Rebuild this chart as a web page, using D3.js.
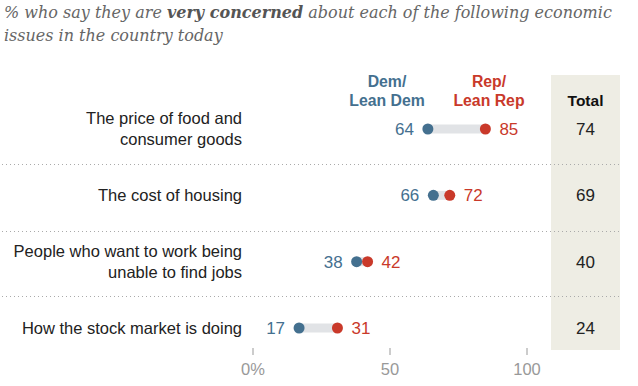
<!DOCTYPE html>
<html><head><meta charset="utf-8">
<script src="https://cdn.jsdelivr.net/npm/d3@7"></script>
<style>
body{margin:0;background:#fff;}
svg{display:block;}
</style></head><body>
<svg id="c" width="638" height="386"></svg>
<script>
const categories = [
  ["The price of food and", "consumer goods"],
  ["The cost of housing"],
  ["People who want to work being", "unable to find jobs"],
  ["How the stock market is doing"]
];
const demValues = [64, 66, 38, 17];
const repValues = [85, 72, 42, 31];
const totalValues = [74, 69, 40, 24];
const tickValues = [0, 50, 100];
const tickLabels = ["0%", "50", "100"];

const svg = d3.select("#c");
const sans = "'Liberation Sans', Arial, sans-serif";
const serif = "Georgia, 'DejaVu Serif', 'Liberation Serif', serif";
const blue = "#44708f", red = "#c9392a";

const x = d3.scaleLinear().domain([0, 100]).range([252.5, 526.5]);
const y = d3.scalePoint().domain(d3.range(categories.length)).range([129, 328]);

// Title
const title = svg.append("text").attr("x", 4).attr("y", 18)
  .attr("font-family", serif).attr("font-style", "italic").attr("font-size", 16).attr("fill", "#666");
title.append("tspan").text("% who say they are ");
title.append("tspan").text("very concerned").attr("font-weight", "bold").attr("fill", "#555");
title.append("tspan").text(" about each of the following economic");
svg.append("text").attr("x", 4).attr("y", 41)
  .attr("font-family", serif).attr("font-style", "italic").attr("font-size", 16).attr("fill", "#666")
  .text("issues in the country today");

// Total column
svg.append("rect").attr("x", 551).attr("y", 75).attr("width", 69).attr("height", 275).attr("fill", "#eeede4");
svg.append("text").attr("x", 585.5).attr("y", 106).attr("text-anchor", "middle")
  .attr("font-family", sans).attr("font-weight", "bold").attr("font-size", 15.5).attr("fill", "#111").text("Total");

// Legend
const leg = [{t: ["Dem/", "Lean Dem"], c: blue}, {t: ["Rep/", "Lean Rep"], c: red}];
const legX = [387, 489];
leg.forEach((d, i) => {
  svg.append("text").attr("x", legX[i]).attr("y", 87).attr("text-anchor", "middle")
    .attr("font-family", sans).attr("font-weight", "bold").attr("font-size", 15.8).attr("fill", d.c)
    .selectAll("tspan").data(d.t).join("tspan").attr("x", legX[i]).attr("dy", (s, j) => j ? 19 : 0).text(s => s);
});

// Separators
const seps = [164, 231, 296];
svg.selectAll("line.sep").data(seps).join("line").attr("class", "sep")
  .attr("x1", 2).attr("x2", 620).attr("y1", d => d + 0.5).attr("y2", d => d + 0.5)
  .attr("stroke", "#aaa").attr("stroke-width", 1).attr("stroke-dasharray", "1,3");

// Rows
const rows = svg.selectAll("g.row").data(categories).join("g").attr("class", "row")
  .attr("transform", (d, i) => `translate(0,${y(i)})`);

rows.append("text").attr("text-anchor", "end").attr("font-family", sans).attr("font-size", 16.5).attr("fill", "#222")
  .each(function(d) {
    const t = d3.select(this);
    const off = d.length === 1 ? 5.5 : -5;
    d.forEach((s, j) => t.append("tspan").attr("x", 242).attr("y", off + j * 21).text(s));
  });

rows.append("line")
  .attr("x1", (d, i) => x(demValues[i])).attr("x2", (d, i) => x(repValues[i]))
  .attr("stroke", "#e1e3e6").attr("stroke-width", 9);
rows.append("circle").attr("cx", (d, i) => x(demValues[i])).attr("r", 5.5).attr("fill", blue);
rows.append("circle").attr("cx", (d, i) => x(repValues[i])).attr("r", 5.5).attr("fill", red);
rows.append("text").attr("x", (d, i) => x(demValues[i]) - 14).attr("y", 6).attr("text-anchor", "end")
  .attr("font-family", sans).attr("font-size", 17).attr("fill", blue).text((d, i) => demValues[i]);
rows.append("text").attr("x", (d, i) => x(repValues[i]) + 14).attr("y", 6).attr("text-anchor", "start")
  .attr("font-family", sans).attr("font-size", 17).attr("fill", red).text((d, i) => repValues[i]);
rows.append("text").attr("x", 585.5).attr("y", 6).attr("text-anchor", "middle")
  .attr("font-family", sans).attr("font-size", 17).attr("fill", "#222").text((d, i) => totalValues[i]);

// Axis
const axis = d3.axisBottom(x).tickValues(tickValues).tickSize(7).tickPadding(8)
  .tickFormat((d, i) => tickLabels[i]);
const ag = svg.append("g").attr("transform", "translate(0,348)").call(axis);
ag.select(".domain").remove();
ag.selectAll(".tick line").attr("stroke", "#999");
ag.selectAll(".tick text").attr("font-family", sans).attr("font-size", 16.5).attr("fill", "#999");
</script>
</body></html>
